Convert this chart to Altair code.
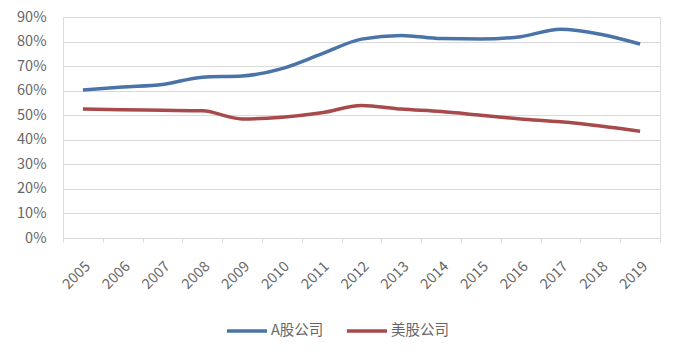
import altair as alt
import pandas as pd

years = [str(y) for y in range(2005, 2020)]
a_share = [60.3, 61.5, 62.5, 65.5, 66.0, 69.0, 75.0, 81.0, 82.5, 81.2, 81.0, 82.0, 85.0, 83.0, 79.0]
us_share = [52.5, 52.2, 52.0, 51.8, 48.5, 49.2, 51.0, 54.0, 52.5, 51.5, 50.0, 48.5, 47.3, 45.6, 43.5]
series_names = ["A股公司", "美股公司"]
colors = ["#4a73a8", "#a84a4c"]

rows = []
for i, y in enumerate(years):
    rows.append({"year": y, "series": series_names[0], "value": a_share[i] / 100})
    rows.append({"year": y, "series": series_names[1], "value": us_share[i] / 100})
df = pd.DataFrame(rows)

font = "Noto Sans CJK SC"

chart = alt.Chart(df).mark_line(strokeWidth=3.5, interpolate="monotone").encode(
    x=alt.X("year:N", sort=years,
            scale=alt.Scale(paddingInner=0, paddingOuter=0),
            axis=alt.Axis(title=None, labelAngle=-45, tickBand="extent",
                          labelFontSize=14.5, labelColor="#666666", labelFont=font,
                          domainColor="#d9d9d9", tickColor="#d9d9d9", tickSize=4,
                          labelPadding=17, grid=False)),
    y=alt.Y("value:Q", scale=alt.Scale(domain=[0, 0.9]),
            axis=alt.Axis(title=None, format=".0%", values=[i / 10 for i in range(10)],
                          labelFontSize=14.5, labelColor="#666666", labelFont=font,
                          domain=False, ticks=False, gridColor="#d9d9d9",
                          labelPadding=17)),
    color=alt.Color("series:N", sort=series_names,
                    scale=alt.Scale(domain=series_names, range=colors),
                    legend=alt.Legend(title=None, orient="none", direction="horizontal",
                                      legendX=162, legendY=292,
                                      symbolType="stroke", symbolStrokeWidth=3.5,
                                      symbolSize=1600, labelFontSize=14.5,
                                      labelColor="#666666", labelFont=font,
                                      columnPadding=16, labelOffset=2)),
).properties(
    width=597, height=221,
    padding={"left": 63, "top": 17, "right": 18, "bottom": 114},
    autosize=alt.AutoSizeParams(type="none"),
).configure_view(stroke=None).configure(background="white")

chart.save("out.html", embed_options={"renderer": "svg", "actions": False})
